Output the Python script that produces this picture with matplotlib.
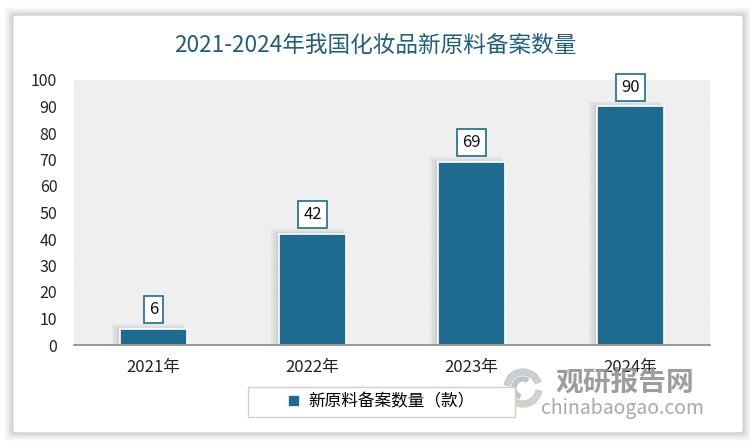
import numpy as np
import matplotlib.pyplot as plt
from matplotlib.patches import FancyBboxPatch, Rectangle, Wedge

plt.rcParams['font.family'] = ['Noto Sans CJK SC', 'DejaVu Sans']
plt.rcParams['hatch.linewidth'] = 0.5
plt.rcParams['hatch.color'] = '#e2e2e2'

years = ['2021年', '2022年', '2023年', '2024年']
counts = [6, 42, 69, 90]
title = '2021-2024年我国化妆品新原料备案数量'
series_name = '新原料备案数量（款）'

bar_color = '#1e6b8f'
title_color = '#1f5f7f'

W, H = 750, 448
fig = plt.figure(figsize=(7.5, 4.48), dpi=100)
fig.patch.set_facecolor('white')

# card with soft shadow
for i, a in enumerate([0.03, 0.04, 0.05, 0.06]):
    d = (4 - i) * 0.003
    fig.patches.append(FancyBboxPatch((0.018 - d, 0.035 - d * 1.5), 0.972 + 2 * d, 0.93 + 2 * d * 1.5,
                                      boxstyle='round,pad=0,rounding_size=0.005',
                                      transform=fig.transFigure, facecolor='black', alpha=a,
                                      edgecolor='none', zorder=-2))
fig.patches.append(FancyBboxPatch((0.018, 0.035), 0.972, 0.93,
                                  boxstyle='round,pad=0,rounding_size=0.005',
                                  transform=fig.transFigure, facecolor='white',
                                  edgecolor='none', zorder=-1))

ax = fig.add_axes([74 / W, 1 - 345 / H, 636 / W, 265 / H])
ax.set_facecolor('none')
x = np.arange(len(years))
ax.add_patch(Rectangle((0, 0), 1, 1, transform=ax.transAxes, facecolor='white',
                       hatch='\\' * 18, edgecolor='#e2e2e2', linewidth=0, zorder=0))

# soft bar shadows
for k, a in enumerate([0.07, 0.09, 0.12]):
    off = 0.012 * (3 - k)
    ax.bar(x - off, [c + 0.6 * (3 - k) for c in counts], width=0.42 + off,
           color='#777777', alpha=a, zorder=1, linewidth=0)
ax.bar(x, counts, width=0.42, color=bar_color, edgecolor='white', linewidth=1.2, zorder=2,
       label=series_name)

ax.set_xlim(-0.5, 3.5)
ax.set_ylim(0, 100)
ax.set_yticks(range(0, 101, 10))
ax.set_xticks(x)
ax.set_xticklabels(years)
ax.tick_params(axis='both', length=0, colors='#222222')
ax.tick_params(axis='x', pad=10, labelsize=12)
ax.tick_params(axis='y', pad=12, labelsize=11.5)
for s in ['top', 'right', 'left']:
    ax.spines[s].set_visible(False)
ax.spines['bottom'].set_color('#888888')
ax.spines['bottom'].set_linewidth(1.2)
ax.spines['bottom'].set_zorder(3)

for xi, v in zip(x, counts):
    ax.annotate(str(v), (xi, v), xytext=(0, 14), textcoords='offset points',
                ha='center', va='center', fontsize=12, color='#111111', zorder=5,
                bbox=dict(boxstyle='square,pad=0.3', facecolor='white',
                          edgecolor=bar_color, linewidth=1.2))

fig.text(0.5, 1 - 45 / H, title, ha='center', va='center', fontsize=16.3, color=title_color,
         fontweight='medium')

# legend with its own frame
fig.patches.append(Rectangle((248 / W, 1 - 417 / H), 267 / W, 30 / H, transform=fig.transFigure,
                             facecolor='white', edgecolor='#cfcfcf', linewidth=1, zorder=1))
leg = fig.legend(loc='center', bbox_to_anchor=(381 / W, 1 - 402 / H), frameon=False,
                 fontsize=12, handlelength=0.7, handleheight=0.7, handletextpad=0.5)

# watermark
logo = fig.add_axes([494 / W, 1 - 408 / H, 58 / W, 40 / H])
logo.set_xlim(-1.45, 1.45)
logo.set_ylim(-1, 1)
logo.axis('off')
logo.add_patch(Wedge((0, 0), 0.95, 20, 170, width=0.3, color='#c4c8ca', alpha=0.85))
logo.add_patch(Wedge((0, 0), 0.95, 200, 350, width=0.3, color='#d0cbbf', alpha=0.85))
logo.add_patch(Wedge((0, 0), 0.55, 60, 250, width=0.2, color='#b9bdc0', alpha=0.85))
fig.text(625 / W, 1 - 383 / H, '观研报告网', ha='center', va='center', fontsize=20, color='#8c8c8c',
         fontweight='bold', alpha=0.85)
fig.text(623 / W, 1 - 408 / H, 'chinabaogao.com', ha='center', va='center', fontsize=14,
         color='#9a9a9a', alpha=0.85)

fig.savefig('out.png', dpi=100)
